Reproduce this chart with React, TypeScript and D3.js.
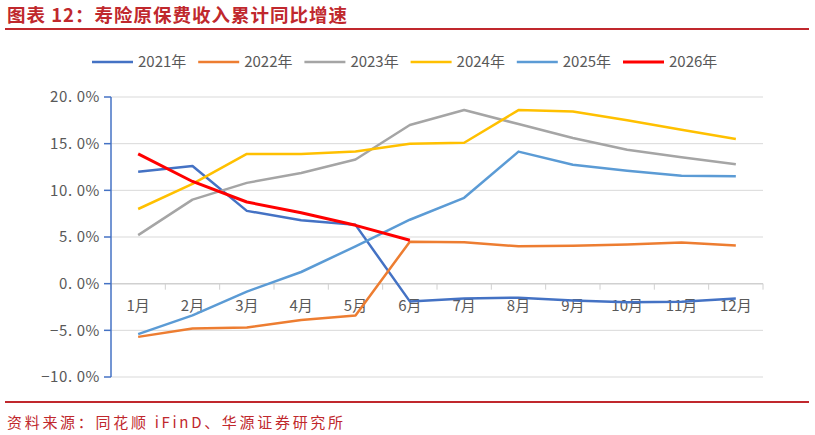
import * as d3 from "d3";

const width = 815;
const height = 435;

// 月份
const months = ["1月", "2月", "3月", "4月", "5月", "6月", "7月", "8月", "9月", "10月", "11月", "12月"];

// 各年度累计同比（%）
const y2021 = [12.0, 12.6, 7.8, 6.8, 6.3, -1.9, -1.6, -1.5, -1.8, -2.0, -1.95, -1.6];
const y2022 = [-5.7, -4.8, -4.7, -3.9, -3.4, 4.5, 4.45, 4.0, 4.05, 4.2, 4.4, 4.1];
const y2023 = [5.2, 9.0, 10.8, 11.85, 13.3, 17.0, 18.6, 17.1, 15.6, 14.35, 13.55, 12.8];
const y2024 = [8.0, 10.7, 13.9, 13.9, 14.15, 15.0, 15.1, 18.6, 18.45, 17.5, 16.5, 15.5];
const y2025 = [-5.4, -3.4, -0.85, 1.25, 4.0, 6.85, 9.2, 14.15, 12.75, 12.1, 11.55, 11.5];
const y2026: (number | null)[] = [13.9, 10.95, 8.75, 7.6, 6.25, 4.65, null, null, null, null, null, null];

const yTicks = [-10, -5, 0, 5, 10, 15, 20];

const seriesNames = ["2021年", "2022年", "2023年", "2024年", "2025年", "2026年"];
const seriesValues = [y2021, y2022, y2023, y2024, y2025, y2026];
const seriesColors = ["#4472C4", "#ED7D31", "#A5A5A5", "#FFC000", "#5B9BD5", "#FF0000"];

const red = "#C0282D";
const gray = "#595959";
const cjk = "'Noto Sans CJK SC', 'Noto Sans', sans-serif";

const plot = { left: 111, right: 763, top: 97, bottom: 377 };

export default function App() {
  const x = d3.scaleBand<string>().domain(months).range([plot.left, plot.right]);
  const y = d3.scaleLinear().domain([-10, 20]).range([plot.bottom, plot.top]);

  const cx = (m: string) => (x(m) ?? 0) + x.bandwidth() / 2;

  const line = d3
    .line<number | null>()
    .defined((d) => d !== null)
    .x((_, i) => cx(months[i]))
    .y((d) => y(d as number));

  const fmt = (v: number) => {
    const s = d3.format(".1f")(v);
    return `${s.replace(".", ". ")}%`;
  };

  const boundaries = [...months.map((m) => x(m) ?? 0), plot.right];

  return (
    <svg
      width={width}
      height={height}
      style={{ position: "absolute", left: 0, top: 0, background: "#fff" }}
    >
      {/* 标题 */}
      <text
        x={7}
        y={22}
        fill={red}
        fontFamily={cjk}
        fontSize={18.5}
        fontWeight={700}
        letterSpacing={1}
      >
        图表 12：寿险原保费收入累计同比增速
      </text>
      <line x1={5} x2={809} y1={29} y2={29} stroke={red} strokeWidth={2} />

      {/* 图例 */}
      <g fontFamily={cjk} fontSize={15} fill={gray}>
        {seriesNames.map((name, i) => {
          const lx = 92 + i * 106.2;
          return (
            <g key={name}>
              <line
                x1={lx}
                x2={lx + 41}
                y1={62}
                y2={62}
                stroke={seriesColors[i]}
                strokeWidth={i === 5 ? 3 : 2.5}
              />
              <text x={lx + 46} y={62} dy="0.35em">
                {name}
              </text>
            </g>
          );
        })}
      </g>

      {/* 网格线 */}
      {yTicks.map((t) => (
        <line
          key={t}
          x1={plot.left}
          x2={plot.right}
          y1={y(t)}
          y2={y(t)}
          stroke={t === 0 ? "#D0D0D0" : "#D9D9D9"}
          strokeWidth={t === 0 ? 1.5 : 1}
        />
      ))}

      {/* x 轴刻度 */}
      {boundaries.map((b, i) => (
        <line key={i} x1={b} x2={b} y1={y(0)} y2={y(0) + 6} stroke="#D0D0D0" strokeWidth={1} />
      ))}

      {/* y 轴 */}
      <line x1={plot.left} x2={plot.left} y1={plot.top} y2={plot.bottom} stroke="#4472C4" strokeWidth={1.5} />
      {yTicks.map((t) => (
        <g key={t}>
          <line x1={plot.left - 7} x2={plot.left} y1={y(t)} y2={y(t)} stroke="#4472C4" strokeWidth={1.5} />
          <text
            x={plot.left - 11}
            y={y(t)}
            dy="0.35em"
            textAnchor="end"
            fill={gray}
            fontFamily={cjk}
            fontSize={15}
            letterSpacing={0.6}
          >
            {fmt(t)}
          </text>
        </g>
      ))}

      {/* 月份标签 */}
      {months.map((m) => (
        <text
          key={m}
          x={cx(m)}
          y={306}
          dy="0.35em"
          textAnchor="middle"
          fill={gray}
          fontFamily={cjk}
          fontSize={15}
        >
          {m}
        </text>
      ))}

      {/* 折线 */}
      {seriesValues.map((vals, i) => (
        <path
          key={seriesNames[i]}
          d={line(vals) ?? ""}
          fill="none"
          stroke={seriesColors[i]}
          strokeWidth={i === 5 ? 3 : 2.5}
          strokeLinejoin="round"
        />
      ))}

      {/* 资料来源 */}
      <line x1={5} x2={809} y1={402} y2={402} stroke={red} strokeWidth={2} />
      <text x={7} y={423} dy="0.35em" fill={red} fontFamily={cjk} fontSize={15} letterSpacing={2.7}>
        资料来源：同花顺 iFinD、华源证券研究所
      </text>
    </svg>
  );
}
